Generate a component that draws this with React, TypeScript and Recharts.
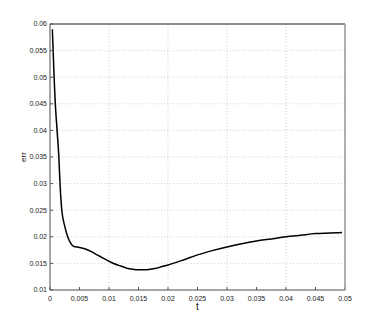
import { LineChart, Line, XAxis, YAxis, CartesianGrid } from "recharts";

const tValues = [
  0.0004, 0.0009, 0.0012, 0.0015, 0.0017, 0.002, 0.0025, 0.003, 0.0035, 0.004,
  0.005, 0.006, 0.007, 0.008, 0.009, 0.01, 0.011, 0.012, 0.013, 0.014, 0.015,
  0.016, 0.017, 0.018, 0.019, 0.02, 0.0225, 0.025, 0.0275, 0.03, 0.0325, 0.035,
  0.0375, 0.04, 0.0425, 0.045, 0.0475, 0.0495,
];
const errValues = [
  0.059, 0.045, 0.04, 0.035, 0.03, 0.025, 0.022, 0.02, 0.0188, 0.0182, 0.018,
  0.0177, 0.0172, 0.0166, 0.016, 0.0154, 0.0149, 0.0145, 0.0141, 0.0139,
  0.0138, 0.0138, 0.0139, 0.0141, 0.0144, 0.0147, 0.0156, 0.0166, 0.0174,
  0.0181, 0.0187, 0.0192, 0.0196, 0.02, 0.0203, 0.0206, 0.0207, 0.0208,
];
const xTicks = [0, 0.005, 0.01, 0.015, 0.02, 0.025, 0.03, 0.035, 0.04, 0.045, 0.05];
const yTicks = [0.01, 0.015, 0.02, 0.025, 0.03, 0.035, 0.04, 0.045, 0.05, 0.055, 0.06];

const data = tValues.map((t, i) => ({ t, err: errValues[i] }));

const font = "Liberation Sans, Arial, sans-serif";
const tickStyle = { fontSize: 7, fill: "#222", fontFamily: font };
const axisColor = "#555";

export default function App() {
  return (
    <div style={{ position: "absolute", left: 0, top: 0, background: "#fff" }}>
      <LineChart
        width={382}
        height={327}
        data={data}
        margin={{ top: 23, right: 36, left: 0, bottom: 0 }}
      >
        <CartesianGrid stroke="#cfcfcf" strokeDasharray="1 2" />
        <XAxis
          dataKey="t"
          type="number"
          domain={[0, 0.05]}
          ticks={xTicks}
          tickFormatter={(v) => String(v)}
          tick={tickStyle}
          stroke={axisColor}
          tickSize={-3}
          tickMargin={9}
          height={37}
          label={{
            value: "t",
            position: "center",
            dy: -2,
            style: { fontSize: 10, fill: "#111", fontFamily: font },
          }}
        />
        <XAxis
          xAxisId="top"
          dataKey="t"
          type="number"
          orientation="top"
          domain={[0, 0.05]}
          ticks={xTicks}
          tick={false}
          stroke="#222"
          tickSize={-3}
          height={1}
        />
        <YAxis
          dataKey="err"
          type="number"
          domain={[0.01, 0.06]}
          ticks={yTicks}
          tickFormatter={(v) => String(v)}
          tick={tickStyle}
          stroke={axisColor}
          tickSize={-3}
          tickMargin={6}
          width={50}
          label={{
            value: "err",
            angle: -90,
            position: "center",
            dx: -2,
            style: { fontSize: 8, fill: "#111", fontFamily: font },
          }}
        />
        <YAxis
          yAxisId="right"
          orientation="right"
          type="number"
          domain={[0.01, 0.06]}
          ticks={yTicks}
          tick={false}
          stroke="#999"
          strokeWidth={1.5}
          tickSize={-3}
          width={1}
        />
        <Line
          type="monotone"
          dataKey="err"
          stroke="#000"
          strokeWidth={1.5}
          dot={false}
          isAnimationActive={false}
        />
      </LineChart>
    </div>
  );
}
